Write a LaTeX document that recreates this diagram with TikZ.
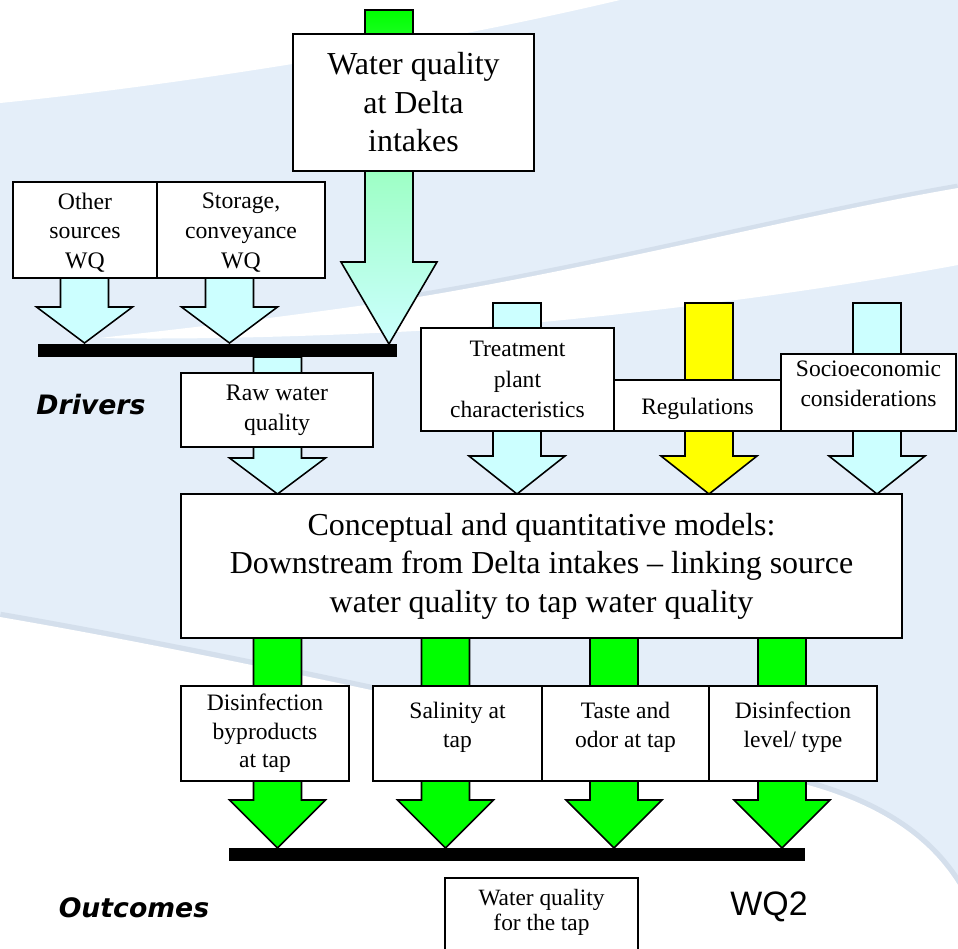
\documentclass[tikz,border=0pt]{standalone}
\usepackage{fontspec}
\setmainfont{Liberation Serif}
\newfontfamily\arialfont{Liberation Sans}
\newfontfamily\comicfont{DejaVu Sans}
\usetikzlibrary{fit}
\definecolor{bgblue}{HTML}{E4EEF9}
\definecolor{bgshade}{HTML}{D4DFEC}
\definecolor{lcyan}{HTML}{CCFFFF}
\definecolor{lgreen}{HTML}{00FF00}
\definecolor{lyellow}{HTML}{FFFF00}
% block arrow: centre x, top, head top, tip, options
\newcommand\fatarrow[5]{\draw[line width=0.9pt,#5] (#1-24,#2) -- (#1+24,#2) -- (#1+24,#3) -- (#1+48,#3) -- (#1,#4) -- (#1-48,#3) -- (#1-24,#3) -- cycle;}
\tikzset{
  box/.style={draw, fill=white, line width=0.9pt, inner sep=0pt},
  txt/.style={align=center, inner sep=0pt, font=\fontsize{13.5}{17}\selectfont},
  bigtxt/.style={txt, font=\fontsize{18.2}{21.9}\selectfont},
  toptxt/.style={txt, font=\fontsize{13.4}{17.4}\selectfont},
  outtxt/.style={txt, font=\fontsize{13.4}{16.2}\selectfont},
  tag/.style={font=\comicfont\bfseries\itshape\fontsize{15.2}{18}\selectfont},
}
\begin{document}
\begin{tikzpicture}[x=0.02cm, y=-0.02cm]
\useasboundingbox (0,0) rectangle (958,948);
% background swoosh
\fill[bgblue] (0,0) rectangle (958,948);
\draw[bgshade, line width=5pt] (958,188) .. controls (800,215) and (600,268) .. (400,300);
\draw[bgshade, line width=6pt] (0,617) .. controls (250,660) and (550,730) .. (780,778) .. controls (880,800) and (930,840) .. (958,885);
\fill[white] (0,0) -- (0,103) .. controls (150,88) and (400,52) .. (620,0) -- cycle;
\fill[white] (958,188) .. controls (800,215) and (600,268) .. (400,300) .. controls (250,322) and (150,332) .. (100,338) .. controls (200,340) and (350,336) .. (500,326) .. controls (700,308) and (850,285) .. (958,265) -- cycle;
\fill[white] (0,617) .. controls (250,660) and (550,730) .. (780,778) .. controls (880,800) and (930,840) .. (958,885) -- (958,948) -- (0,948) -- cycle;

% arrows
\fatarrow{389}{10}{262}{344}{top color=lgreen, bottom color=lcyan, middle color=lgreen!22!lcyan}
\fatarrow{84.5}{270}{307}{343}{fill=lcyan}
\fatarrow{229.5}{270}{307}{343}{fill=lcyan}
\fatarrow{277.5}{357}{458}{494}{fill=lcyan}
\fatarrow{517}{303}{456}{494}{fill=lcyan}
\fatarrow{709}{303}{456}{494}{fill=lyellow}
\fatarrow{877}{303}{456}{494}{fill=lcyan}
\foreach \x in {277.5,445.5,614,782}{
  \fatarrow{\x}{638}{800}{848}{fill=lgreen}
}

% bars
\fill (38,344) rectangle (397,357);
\fill (229,848) rectangle (805,861);

% boxes
\node[box, fit={(293,34) (534,171)}] (intake) {};
\node[box, fit={(13,182) (157,278)}] (other) {};
\node[box, fit={(157,182) (325,278)}] (storage) {};
\node[box, fit={(181,373) (373,447)}] (raw) {};
\node[box, fit={(421,328) (614,431)}] (plant) {};
\node[box, fit={(614,380) (781,431)}] (regs) {};
\node[box, fit={(781,354) (956,431)}] (socio) {};
\node[box, fit={(181,494) (902,638)}] (models) {};
\node[box, fit={(181,686) (349,781)}] (dbp) {};
\node[box, fit={(373,686) (542,781)}] (salt) {};
\node[box, fit={(542,686) (709,781)}] (odor) {};
\node[box, fit={(709,686) (877,781)}] (disinf) {};
\node[box, fit={(445,878) (638,952)}] (tap) {};

% box texts
\node[bigtxt] (intake-t) at (intake.center) {Water quality\\at Delta\\intakes};
\node[txt] (other-t) at ([yshift=-1.5pt]other.center) {Other\\sources\\WQ};
\node[txt] (storage-t) at ([yshift=-1.5pt]storage.center) {Storage,\\conveyance\\WQ};
\node[txt] (raw-t) at (raw.center) {Raw water\\quality};
\node[toptxt] (plant-t) at (plant.center) {Treatment\\plant\\characteristics};
\node[toptxt] (regs-t) at ([yshift=-2pt]regs.center) {Regulations};
\node[toptxt] (socio-t) at ([yshift=5pt]socio.center) {Socioeconomic\\considerations};
\node[bigtxt] (models-t) at (models.center) {Conceptual and quantitative models:\\Downstream from Delta intakes -- linking source\\water quality to tap water quality};
\node[outtxt] (dbp-t) at (dbp.center) {Disinfection\\byproducts\\at tap};
\node[outtxt] (salt-t) at ([yshift=3.5pt]salt.center) {Salinity at\\tap};
\node[outtxt] (odor-t) at ([yshift=3.5pt]odor.center) {Taste and\\odor at tap};
\node[outtxt] (disinf-t) at ([yshift=3.5pt]disinf.center) {Disinfection\\level/ type};
\node[outtxt, font=\fontsize{13.3}{14.2}\selectfont] (tap-t) at (541.5,912.5) {Water quality\\for the tap};

% labels
\node[tag] (drivers) at (91,405) {Drivers};
\node[tag] (outcomes) at (134,908) {Outcomes};
\node[font=\arialfont\fontsize{19.3}{22}\selectfont] (wq) at (769,907) {WQ2};
\end{tikzpicture}
\end{document}
